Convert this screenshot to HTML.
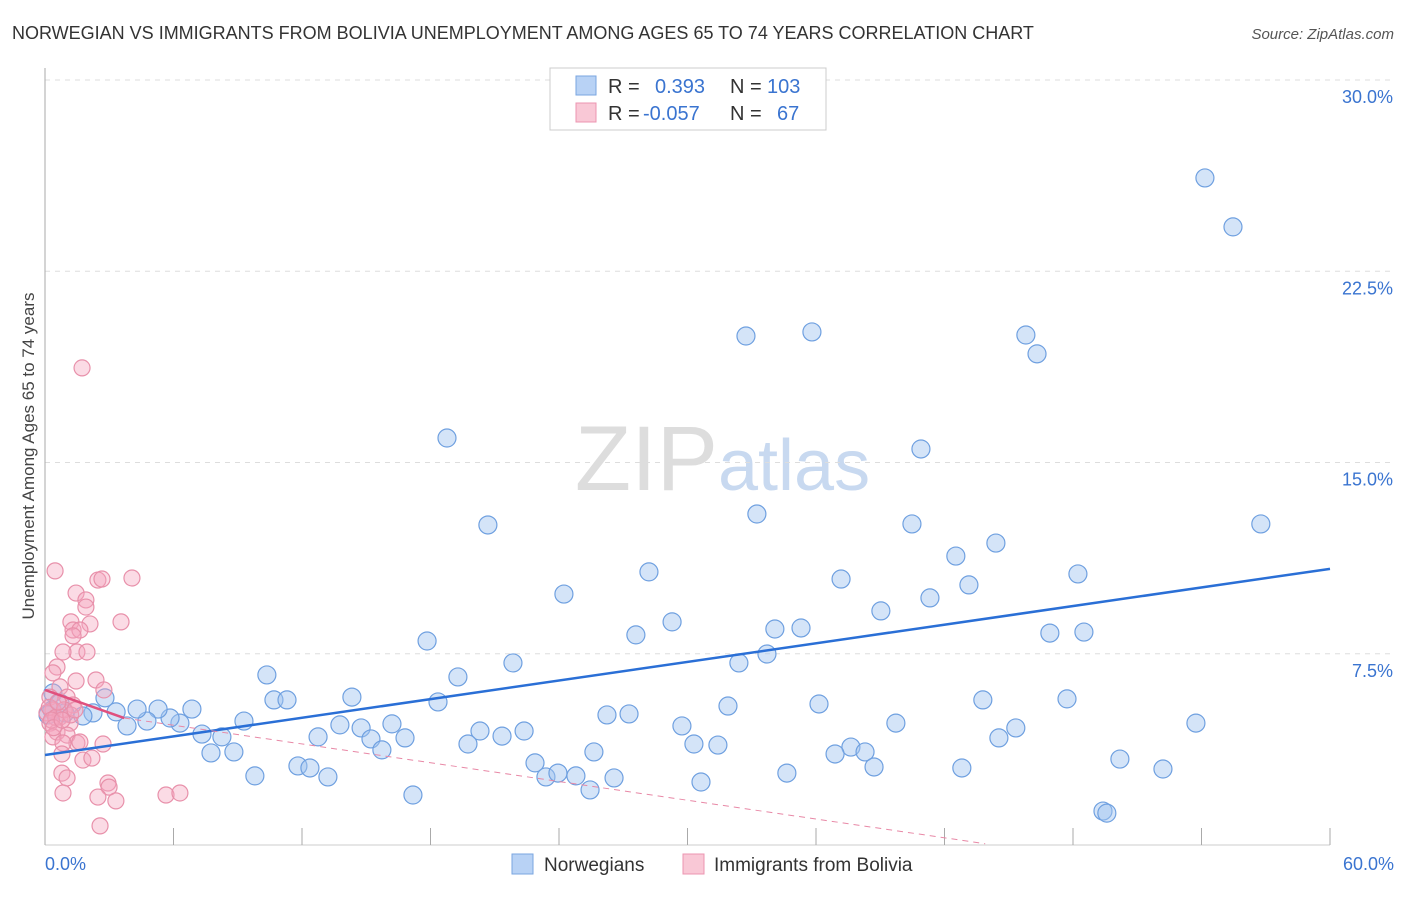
<!DOCTYPE html>
<html><head><meta charset="utf-8"><style>
body{margin:0;background:#fff;font-family:"Liberation Sans",sans-serif}
svg text{font-family:"Liberation Sans",sans-serif}
</style></head><body>
<svg id="chart" width="1406" height="892" viewBox="0 0 1406 892">
<text x="12" y="39" font-size="18" fill="#333">NORWEGIAN VS IMMIGRANTS FROM BOLIVIA UNEMPLOYMENT AMONG AGES 65 TO 74 YEARS CORRELATION CHART</text>
<text x="1394" y="39" font-size="15" fill="#555" text-anchor="end" font-style="italic">Source: ZipAtlas.com</text>
<text x="718" y="490" font-size="92" fill="#ddd" text-anchor="end" font-family="Liberation Serif">ZIP</text>
<text x="718" y="490" font-size="72" fill="#c8d9f0">atlas</text>
<g id="grid"></g><g id="axes"></g>
<g id="blue"></g><g id="pink"></g><g id="trends"></g>
<text transform="translate(34,456) rotate(-90)" font-size="17" fill="#444" text-anchor="middle">Unemployment Among Ages 65 to 74 years</text>
<g>
<rect x="550" y="68" width="276" height="62" fill="#fff" stroke="#ccc"/>
<rect x="576" y="76" width="20" height="19" fill="#b8d2f5" stroke="#7aa6e0"/>
<rect x="576" y="103" width="20" height="19" fill="#f9c8d6" stroke="#ec95b0"/>
<text x="608" y="93" font-size="20" fill="#333">R =</text><text x="655" y="93" font-size="20" fill="#3a74d0">0.393</text>
<text x="730" y="93" font-size="20" fill="#333">N =</text><text x="767" y="93" font-size="20" fill="#3a74d0">103</text>
<text x="608" y="120" font-size="20" fill="#333">R =</text><text x="643" y="120" font-size="20" fill="#3a74d0">-0.057</text>
<text x="730" y="120" font-size="20" fill="#333">N =</text><text x="777" y="120" font-size="20" fill="#3a74d0">67</text>
</g>
<g>
<rect x="512" y="854" width="21" height="20" fill="#b8d2f5" stroke="#7aa6e0"/>
<text x="544" y="871" font-size="19" fill="#333">Norwegians</text>
<rect x="683" y="854" width="21" height="20" fill="#f9c8d6" stroke="#ec95b0"/>
<text x="714" y="871" font-size="19" fill="#333">Immigrants from Bolivia</text>
</g>
</svg>
<script>
const yTicks=[7.5,15,22.5,30];
const yTickLabels=["7.5%","15.0%","22.5%","30.0%"];
const xTicks=[0,6,12,18,24,30,36,42,48,54,60];
const blueX=[54.16,55.47,32.73,35.81,45.80,46.32,18.77,40.90,20.68,33.24,40.48,56.77,42.53,44.40,28.20,37.17,43.14,48.23,24.23,41.32,39.03,29.28,27.59,34.08,35.30,46.92,48.51,17.84,33.71,32.40,21.85,10.36,19.28,14.33,10.69,11.30,18.35,43.79,47.72,36.14,31.89,26.24,27.27,53.74,39.73,29.74,13.77,16.20,14.76,20.31,22.37,45.33,21.34,12.75,15.22,16.81,44.54,19.75,30.30,31.42,37.63,15.73,7.75,8.82,25.63,36.89,38.29,50.19,22.88,38.71,11.81,12.37,42.81,52.20,9.80,13.21,23.39,23.95,24.79,26.57,34.64,30.63,25.45,17.18,49.40,49.58,9.29,7.33,8.26,6.86,6.30,5.84,5.28,4.76,4.30,3.83,3.32,2.80,2.24,1.77,0.93,0.37,0.33,0.70,0.14];
const blueY=[26.16,24.24,19.96,20.12,20.0,19.26,15.96,15.53,12.55,12.98,12.59,12.59,11.33,11.84,10.71,10.43,10.20,10.63,9.84,9.69,9.18,8.75,8.24,8.47,8.51,8.31,8.35,8.0,7.49,7.14,7.14,6.67,6.59,5.80,5.69,5.69,5.61,5.69,5.73,5.53,5.45,5.10,5.14,4.78,4.78,4.67,4.71,4.75,4.59,4.47,4.47,4.59,4.27,4.24,4.16,4.20,4.20,3.96,3.96,3.92,3.84,3.73,3.61,3.65,3.65,3.57,3.65,3.37,3.22,3.06,3.10,3.02,3.02,2.98,2.71,2.67,2.67,2.82,2.71,2.63,2.82,2.47,2.16,1.96,1.33,1.25,4.86,4.35,4.24,5.33,4.78,4.98,5.33,4.86,5.33,4.67,5.22,5.77,5.18,5.06,5.18,5.96,5.29,5.57,5.1];
const pinkX=[1.73,0.47,2.47,2.66,4.06,1.45,1.91,1.91,3.55,1.21,2.10,1.31,1.63,1.31,1.49,1.96,0.84,0.56,0.37,1.45,2.38,0.70,2.75,1.03,0.23,1.31,0.37,0.09,0.70,0.23,1.17,0.56,1.03,0.37,1.49,0.84,2.71,1.63,0.79,1.77,2.19,0.79,1.03,0.84,2.94,2.99,2.47,3.31,5.65,6.30,2.57,0.2,0.5,0.3,0.9,0.6,1.2,0.4,0.8,1.4];
const pinkY=[18.71,10.75,10.39,10.43,10.47,9.88,9.61,9.33,8.75,8.75,8.67,8.43,8.43,8.20,7.57,7.57,7.57,6.98,6.75,6.43,6.47,6.20,6.08,5.80,5.80,5.49,5.29,5.18,5.02,4.78,4.78,4.43,4.31,4.24,4.0,4.0,3.96,4.04,3.57,3.33,3.41,2.82,2.63,2.04,2.43,2.27,1.88,1.73,1.96,2.04,0.75,5.4,5.0,4.9,5.3,5.6,5.1,4.6,4.9,5.3];
const blueTrend=[[0,3.53],[60,10.83]];
const pinkTrendSolid=[[0,6.08],[3.7,4.98]];
const pinkTrendDash=[[3.7,4.98],[43.9,0.05]];

const NS="http://www.w3.org/2000/svg";
const X0=45,X1=1330,Y0=845,Y30=80;
function sx(v){return X0+(v/60)*(X1-X0);}
function sy(v){return Y0-(v/30)*(Y0-Y30);}
function mk(tag,attrs,parent){const e=document.createElementNS(NS,tag);for(const k in attrs)e.setAttribute(k,attrs[k]);document.getElementById(parent).appendChild(e);return e;}
yTicks.forEach((t,i)=>{
 const l=mk('line',{x1:X0,x2:1394,y1:sy(t),y2:sy(t),stroke:'#ddd','stroke-dasharray':'5,5'},'grid');
 
 
 const tx=mk('text',{x:1393,y:sy(t)+23,'font-size':18,fill:'#3a74d0','text-anchor':'end'},'grid');
 tx.textContent=yTickLabels[i];
 
 
});
const ax=mk('line',{x1:X0,x2:X0,y1:68,y2:Y0,stroke:'#aaa'},'axes');


const bx=mk('line',{x1:X0,x2:X1,y1:Y0,y2:Y0,stroke:'#ccc'},'axes');


xTicks.forEach(t=>{
 const l=mk('line',{x1:sx(t),x2:sx(t),y1:828,y2:Y0,stroke:'#aaa'},'axes');
 
 
});
const xl0=mk('text',{x:45,y:870,'font-size':18,fill:'#3a74d0'},'axes');xl0.textContent='0.0%';


const xl1=mk('text',{x:1394,y:870,'font-size':18,fill:'#3a74d0','text-anchor':'end'},'axes');xl1.textContent='60.0%';


blueX.forEach((v,i)=>{
 const c=mk('circle',{cx:sx(v),cy:sy(blueY[i]),r:9,fill:'rgba(160,196,240,0.45)',stroke:'#6fa0e0','stroke-width':1.2},'blue');
 
 
});
pinkX.forEach((v,i)=>{
 const c=mk('circle',{cx:sx(v),cy:sy(pinkY[i]),r:8,fill:'rgba(244,165,190,0.4)',stroke:'#e890aa','stroke-width':1.2},'pink');
 
 
});
const bt=mk('line',{x1:sx(blueTrend[0][0]),y1:sy(blueTrend[0][1]),x2:sx(blueTrend[1][0]),y2:sy(blueTrend[1][1]),stroke:'#2a6fd6','stroke-width':2.5},'trends');


const pt=mk('line',{x1:sx(pinkTrendSolid[0][0]),y1:sy(pinkTrendSolid[0][1]),x2:sx(pinkTrendSolid[1][0]),y2:sy(pinkTrendSolid[1][1]),stroke:'#e0507e','stroke-width':2.5},'trends');


const pd=mk('line',{x1:sx(pinkTrendDash[0][0]),y1:sy(pinkTrendDash[0][1]),x2:sx(pinkTrendDash[1][0]),y2:sy(pinkTrendDash[1][1]),stroke:'#e888a6','stroke-width':1,'stroke-dasharray':'6,5'},'trends');


</script>
</body></html>
